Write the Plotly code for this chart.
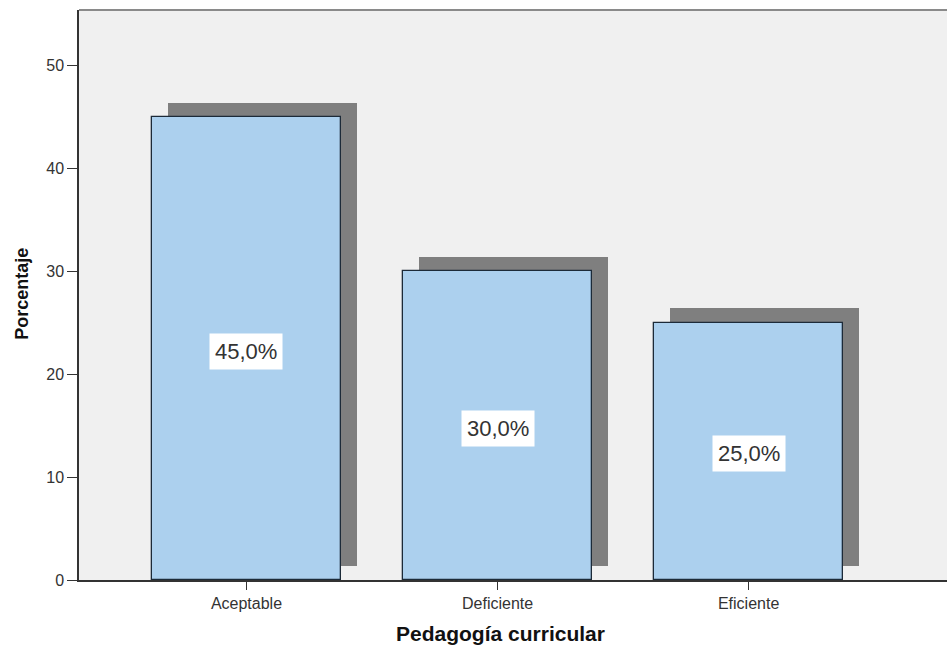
import plotly.graph_objects as go

# Distribución de la variable "Pedagogía curricular"
categorias = ["Aceptable", "Deficiente", "Eficiente"]
porcentajes = [45.0, 30.0, 25.0]
etiquetas = ["45,0%", "30,0%", "25,0%"]
y_ticks = [0, 10, 20, 30, 40, 50]

pos = list(range(len(categorias)))
ancho = 0.753
desplaz_x = 0.064   # sombra desplazada a la derecha
desplaz_y = 1.4     # y hacia arriba

fuente = "Liberation Sans, Arial"

fig = go.Figure()

# Sombra de cada barra
fig.add_trace(go.Bar(
    x=[p + desplaz_x for p in pos],
    y=porcentajes,
    base=[desplaz_y] * len(pos),
    width=ancho,
    marker=dict(color="#7f7f7f", line=dict(width=0)),
    hoverinfo="skip",
    showlegend=False,
))

# Barras principales
fig.add_trace(go.Bar(
    x=pos,
    y=porcentajes,
    width=ancho,
    marker=dict(color="#acd0ee", line=dict(color="#1c2a38", width=1.3)),
    showlegend=False,
))

for p, v, t in zip(pos, porcentajes, etiquetas):
    fig.add_annotation(
        x=p, y=v / 2 - 0.25, text=t, showarrow=False,
        font=dict(family=fuente, size=22, color="#333333"),
        bgcolor="white", borderpad=5,
    )

# Títulos de los ejes
fig.add_annotation(
    xref="paper", yref="paper", x=0.486, y=-0.093,
    text="<b>Pedagogía curricular</b>", showarrow=False,
    font=dict(family=fuente, size=21, color="#111111"),
    xanchor="center", yanchor="middle",
)
fig.add_annotation(
    xref="paper", yref="paper", x=-0.0657, y=0.502,
    text="<b>Porcentaje</b>", showarrow=False, textangle=-90,
    font=dict(family=fuente, size=18, color="#111111"),
    xanchor="center", yanchor="middle",
)

fig.add_shape(type="line", xref="paper", yref="paper", x0=0, x1=1, y0=1, y1=1,
              line=dict(color="#8a8a8a", width=2))

fig.update_layout(
    width=947, height=646,
    margin=dict(l=79, r=0, t=10, b=66),
    paper_bgcolor="white",
    plot_bgcolor="#f0f0f0",
    barmode="overlay",
    bargap=0,
    font=dict(family=fuente, size=16, color="#333333"),
    xaxis=dict(
        range=[-0.667, 2.79],
        tickvals=pos, ticktext=categorias,
        ticks="outside", ticklen=8, tickcolor="#333333",
        showline=True, linecolor="#333333", linewidth=1.5,
        showgrid=False, zeroline=False,
    ),
    yaxis=dict(
        range=[0, 55.4],
        tickvals=y_ticks,
        ticks="outside", ticklen=10, tickcolor="#333333",
        showline=True, linecolor="#333333", linewidth=1.5,
        showgrid=False, zeroline=False,
    ),
)

fig.write_html("out.html")
